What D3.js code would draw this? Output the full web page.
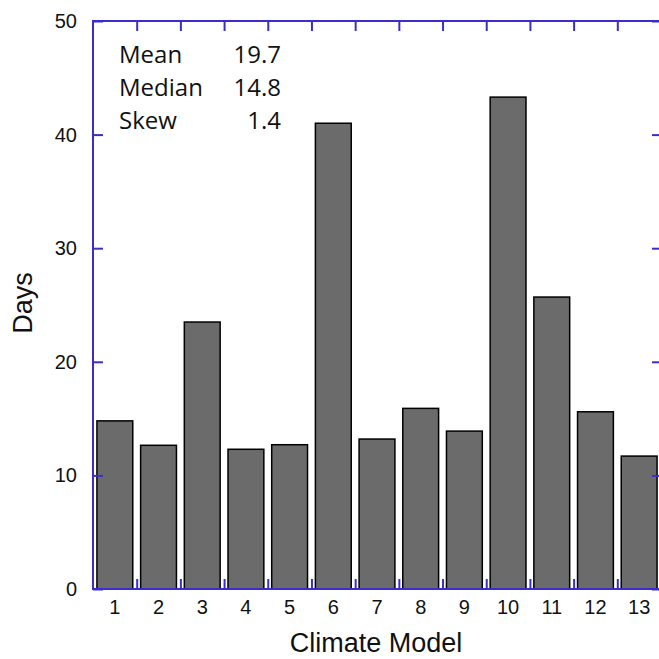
<!DOCTYPE html>
<html>
<head>
<meta charset="utf-8">
<script src="https://cdnjs.cloudflare.com/ajax/libs/d3/7.8.5/d3.min.js"></script>
<style>
  body { margin: 0; background: #fff; }
  text { font-family: "Liberation Sans", Arial, sans-serif; fill: #111; }
  .stat { font-family: "Open Sans", sans-serif; font-size: 24px; }
  .tick text { font-size: 20px; }
</style>
</head>
<body>
<svg width="659" height="659"></svg>
<script>
// chart data
var models = ["1", "2", "3", "4", "5", "6", "7", "8", "9", "10", "11", "12", "13"];
var days = [14.8, 12.65, 23.5, 12.3, 12.7, 41.0, 13.2, 15.9, 13.9, 43.3, 25.7, 15.6, 11.7];
var yTicks = [0, 10, 20, 30, 40, 50];
var statNames = ["Mean", "Median", "Skew"];
var statValues = ["19.7", "14.8", "1.4"];

var axisColor = "#3b2dcc";
// plot box (can't call it "top", window.top is read-only)
var pLeft = 93, pRight = 661, pTop = 21, pBottom = 589;

var svg = d3.select("svg");

var x = d3.scaleBand()
  .domain(models)
  .range([pLeft, pRight])
  .paddingInner(0.18)
  .paddingOuter(0.09);

// band edges for the between-category ticks
var edge = d3.scaleLinear().domain([0, models.length]).range([pLeft, pRight]);

var y = d3.scaleLinear().domain([0, 50]).range([pBottom, pTop]);

// bars
svg.selectAll("rect.bar")
  .data(days)
  .enter()
  .append("rect")
  .attr("class", "bar")
  .attr("x", function (d, i) { return x(models[i]); })
  .attr("y", function (d) { return y(d); })
  .attr("width", x.bandwidth())
  .attr("height", function (d) { return y(0) - y(d); })
  .attr("fill", "#6b6b6b")
  .attr("stroke", "#000")
  .attr("stroke-width", 1.5);

// frame
svg.append("rect")
  .attr("x", pLeft).attr("y", pTop)
  .attr("width", pRight - pLeft).attr("height", pBottom - pTop)
  .attr("fill", "none")
  .attr("stroke", axisColor)
  .attr("stroke-width", 2);

// left axis: inward ticks
var yAxisL = d3.axisLeft(y).tickValues(yTicks).tickSize(-10).tickPadding(16);
var gl = svg.append("g").attr("transform", "translate(" + pLeft + ",0)")
  .call(yAxisL).attr("font-size", 20);
gl.select(".domain").remove();
gl.selectAll(".tick line").attr("stroke", axisColor).attr("stroke-width", 2);
gl.selectAll(".tick text").attr("fill", "#111");

// right axis: inward ticks, no labels
var yAxisR = d3.axisRight(y).tickValues(yTicks).tickSize(-9).tickFormat("");
var gr = svg.append("g").attr("transform", "translate(" + pRight + ",0)").call(yAxisR);
gr.select(".domain").remove();
gr.selectAll(".tick line").attr("stroke", axisColor).attr("stroke-width", 2);

// between-category ticks on top and bottom
var edgeIdx = d3.range(1, models.length);
var edgeAxisB = d3.axisBottom(edge).tickValues(edgeIdx).tickSize(-10).tickFormat("");
var gb = svg.append("g").attr("transform", "translate(0," + pBottom + ")").call(edgeAxisB);
gb.select(".domain").remove();
gb.selectAll(".tick line").attr("stroke", axisColor).attr("stroke-width", 2);

var edgeAxisT = d3.axisTop(edge).tickValues(edgeIdx).tickSize(-10).tickFormat("");
var gt = svg.append("g").attr("transform", "translate(0," + pTop + ")").call(edgeAxisT);
gt.select(".domain").remove();
gt.selectAll(".tick line").attr("stroke", axisColor).attr("stroke-width", 2);

// category labels
var xAxis = d3.axisBottom(x).tickSize(0).tickPadding(11);
var gx = svg.append("g").attr("transform", "translate(0," + pBottom + ")")
  .call(xAxis).attr("font-size", 20);
gx.select(".domain").remove();
gx.selectAll(".tick text").attr("fill", "#111");

// axis titles
svg.append("text")
  .attr("x", 376)
  .attr("y", 652)
  .attr("text-anchor", "middle")
  .style("font-size", "27px")
  .text("Climate Model");

svg.append("text")
  .attr("transform", "translate(32,303) rotate(-90)")
  .attr("text-anchor", "middle")
  .style("font-size", "27px")
  .text("Days");

// stats box
svg.selectAll("text.sname").data(statNames).enter()
  .append("text")
  .attr("class", "stat sname")
  .attr("x", 119)
  .attr("y", function (d, i) { return 63 + i * 33; })
  .text(function (d) { return d; });

svg.selectAll("text.sval").data(statValues).enter()
  .append("text")
  .attr("class", "stat sval")
  .attr("x", 281)
  .attr("y", function (d, i) { return 63 + i * 33; })
  .attr("text-anchor", "end")
  .text(function (d) { return d; });
</script>
</body>
</html>
